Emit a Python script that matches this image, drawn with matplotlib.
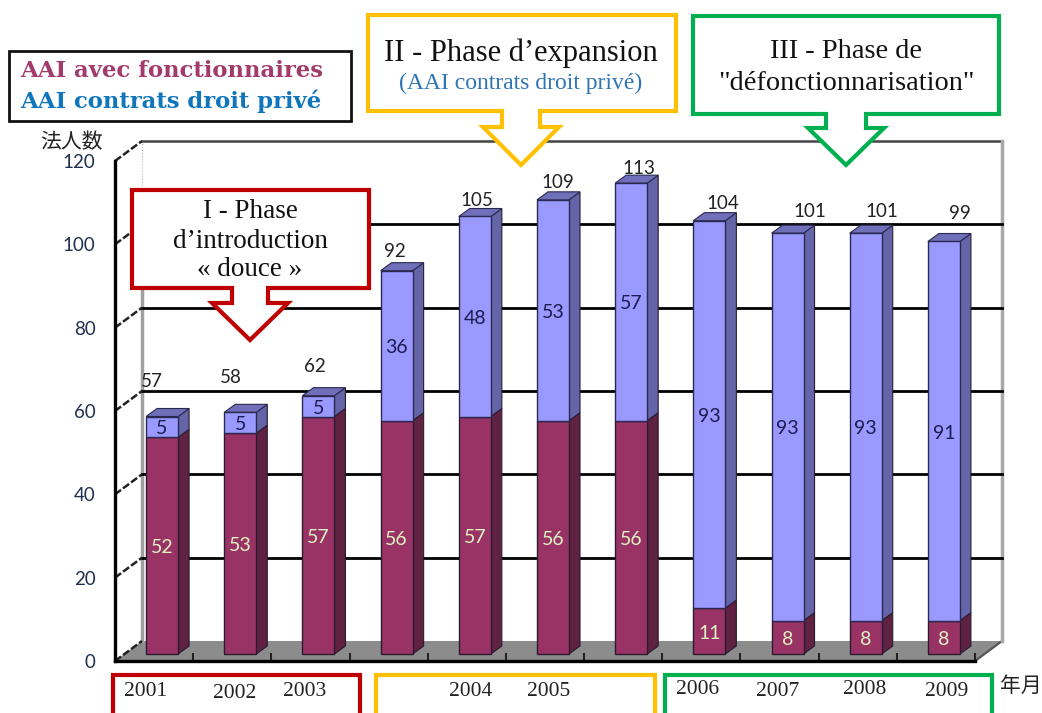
import matplotlib

matplotlib.use("Agg")
import matplotlib.pyplot as plt
from matplotlib.patches import Polygon, Rectangle

plt.rcParams["font.family"] = ["Lato", "DejaVu Sans"]

fonctionnaires = [52, 53, 57, 56, 57, 56, 56, 11, 8, 8, 8]
contrats = [5, 5, 5, 36, 48, 53, 57, 93, 93, 93, 91]
totals = [57, 58, 62, 92, 105, 109, 113, 104, 101, 101, 99]
y_ticks = [0, 20, 40, 60, 80, 100, 120]
years = ["2001", "2002", "2003", "2004", "2005", "2006", "2007", "2008", "2009"]

# pixel placement of the hand-set labels in the original
year_x = [146, 235, 305, 471, 549, 698, 778, 865, 947]
year_y = [691, 693, 691, 691, 691, 690, 692, 690, 692]
total_nudge_x = [-10, -9, -4, -2, 2, 5, 8, 13, 22, 16, 16]
total_nudge_y = [35, 35, 29, 19, 16, 17, 15, 17, 22, 22, 28]

W, H = 1042, 713
MAROON, MAROON_SIDE = "#993366", "#5f2242"
BLUE, BLUE_SIDE, BLUE_TOP = "#9999ff", "#6464a8", "#6f6fba"
RED, YELLOW, GREEN = "#c00000", "#ffc000", "#00b050"
SERIF = "Liberation Serif"

fig = plt.figure(figsize=(W / 100, H / 100), dpi=100)
ax = fig.add_axes([115 / W, 1 - 661 / H, 860 / W, 500 / H])
ax.set_xlim(0, 11)
ax.set_ylim(0, 120)
ax.patch.set_visible(False)

px_x = 11 / 860
px_y = 120 / 500
wall_dx, wall_dy = 27 * px_x, 20 * px_y

# floor and back wall
ax.add_patch(Polygon([(0, 0), (11, 0), (11 + wall_dx, wall_dy), (wall_dx, wall_dy)],
                     fc="#8c8c8c", ec="none", clip_on=False, zorder=1))
ax.plot([11, 11 + wall_dx], [0, wall_dy], color="#555555", lw=1.6, clip_on=False, zorder=1.5)
ax.plot([wall_dx, 11 + wall_dx], [120 + wall_dy] * 2, color="#444444", lw=1.8, clip_on=False, zorder=1.5)
ax.plot([11 + wall_dx] * 2, [wall_dy, 120 + wall_dy], color="#a8a8a8", lw=2.5, clip_on=False, zorder=1.5)
ax.plot([wall_dx] * 2, [wall_dy, 100 + wall_dy], color="#a0a0a0", lw=2.5, clip_on=False, zorder=1.5)
ax.plot([wall_dx] * 2, [100 + wall_dy, 120 + wall_dy], color="#b0b0b0", lw=0.8, ls=":", clip_on=False, zorder=1.5)
for v in y_ticks:
    if 0 < v < 120:
        ax.plot([wall_dx, 11 + wall_dx], [v + wall_dy] * 2, color="black", lw=2, clip_on=False, zorder=2)
    ax.plot([0, wall_dx], [v, v + wall_dy], color="#222222", lw=1.8, ls=(0, (3, 1)), clip_on=False, zorder=2)

# bars, front faces through ax.bar and depth faces as polygons
bar_dx, bar_dy = 11 * px_x, 8 * px_y
base = 7 * px_y
width = 32 * px_x
centers = [i + 0.5 + 8 * px_x for i in range(len(totals))]


def depth_faces(x, low, high, side, top=None):
    right = x + width / 2
    ax.add_patch(Polygon([(right, low), (right + bar_dx, low + bar_dy),
                          (right + bar_dx, high + bar_dy), (right, high)],
                         fc=side, ec="#2a1a30", lw=0.8, clip_on=False, zorder=3))
    if top:
        left = x - width / 2
        ax.add_patch(Polygon([(left, high), (right, high), (right + bar_dx, high + bar_dy),
                              (left + bar_dx, high + bar_dy)],
                             fc=top, ec="#2a2a50", lw=0.8, clip_on=False, zorder=3))


for x, low, up in zip(centers, fonctionnaires, contrats):
    depth_faces(x, base, base + low, MAROON_SIDE)
    depth_faces(x, base + low, base + low + up, BLUE_SIDE, BLUE_TOP)
ax.bar(centers, fonctionnaires, width, bottom=base, color=MAROON, edgecolor="#2a1a30", lw=1, clip_on=False, zorder=4)
ax.bar(centers, contrats, width, bottom=[base + v for v in fonctionnaires], color=BLUE,
       edgecolor="#2a2a50", lw=1, clip_on=False, zorder=4)

text_drop = 2 * px_y
for i, (x, low, up, total) in enumerate(zip(centers, fonctionnaires, contrats, totals)):
    ax.text(x, base + low / 2 - text_drop, str(low), ha="center", va="center", fontsize=14,
            color="#dff2c0", zorder=5)
    ax.text(x, base + low + up / 2 - text_drop, str(up), ha="center", va="center", fontsize=14,
            color="#1c1c50", zorder=5)
    ax.text(x + total_nudge_x[i] * px_x, base + total + total_nudge_y[i] * px_y, str(total),
            ha="center", va="center", fontsize=13.5, color="#222222", zorder=5)

ax.set_yticks(y_ticks)
ax.set_xticks(range(12))
ax.set_xticklabels([])
ax.tick_params(axis="y", length=0, pad=14, labelsize=13.5, labelcolor="#1f3050")
ax.tick_params(axis="x", direction="in", length=6, width=1.5, color="#222222")
for name in ("top", "right"):
    ax.spines[name].set_visible(False)
ax.spines["left"].set_linewidth(2.4)
ax.spines["bottom"].set_linewidth(2.4)
for spine in ax.spines.values():
    spine.set_zorder(2.5)

# annotation layer in pixel coordinates
over = fig.add_axes([0, 0, 1, 1], zorder=10)
over.set_xlim(0, W)
over.set_ylim(H, 0)
over.axis("off")


def callout(left, right, top, bottom, neck, head, head_y, mid, tip, color, lw=3):
    over.add_patch(Polygon([(left, top), (right, top), (right, bottom), (mid + neck, bottom), (mid + neck, head_y),
                            (mid + head, head_y), (mid, tip), (mid - head, head_y), (mid - neck, head_y),
                            (mid - neck, bottom), (left, bottom)],
                           fc="white", ec=color, lw=lw, joinstyle="miter"))


callout(132, 369, 190, 288, 18, 38, 303, 250, 340, RED)
callout(368, 676, 15, 111, 19, 38, 127, 521, 165, YELLOW)
callout(693, 999, 16, 114, 20, 38, 128, 846, 165, GREEN)

over.add_patch(Rectangle((9, 51), 342, 70, fc="white", ec="#111111", lw=2))
over.text(20, 71, "AAI avec fonctionnaires", family="DejaVu Serif", weight="bold", fontsize=16.4,
          color="#a23a6b", va="center")
over.text(20, 101, "AAI contrats droit privé", family="DejaVu Serif", weight="bold", fontsize=16.4,
          color="#0f75bd", va="center")

for text, y in (("I - Phase", 212), ("d’introduction", 241), ("« douce »", 270)):
    over.text(250, y, text, family=SERIF, fontsize=19.5, ha="center", va="center", color="#111111")
over.text(521, 53, "II - Phase d’expansion", family=SERIF, fontsize=22, ha="center", va="center", color="#111111")
over.text(521, 83, "(AAI contrats droit privé)", family=SERIF, fontsize=17, ha="center", va="center", color="#2e75b6")
over.text(846, 51, "III - Phase de", family=SERIF, fontsize=20.4, ha="center", va="center", color="#111111")
over.text(846, 83, "\"défonctionnarisation\"", family=SERIF, fontsize=20.4, ha="center", va="center", color="#111111")

for left, right, color in ((113, 360, RED), (376, 655, YELLOW), (665, 992, GREEN)):
    over.add_patch(Rectangle((left, 675), right - left, 60, fc="white", ec=color, lw=3))
for text, x, y in zip(years, year_x, year_y):
    over.text(x, y, text, family=SERIF, fontsize=15.5, ha="center", va="center", color="#222222")

cjk = ["Noto Sans CJK JP", "DejaVu Sans"]
over.text(72, 142, "法人数", family=cjk, fontsize=15, ha="center", va="center", color="#222222")
over.text(1021, 686, "年月", family=cjk, fontsize=15, ha="center", va="center", color="#222222")

fig.savefig("out.png", dpi=100)
